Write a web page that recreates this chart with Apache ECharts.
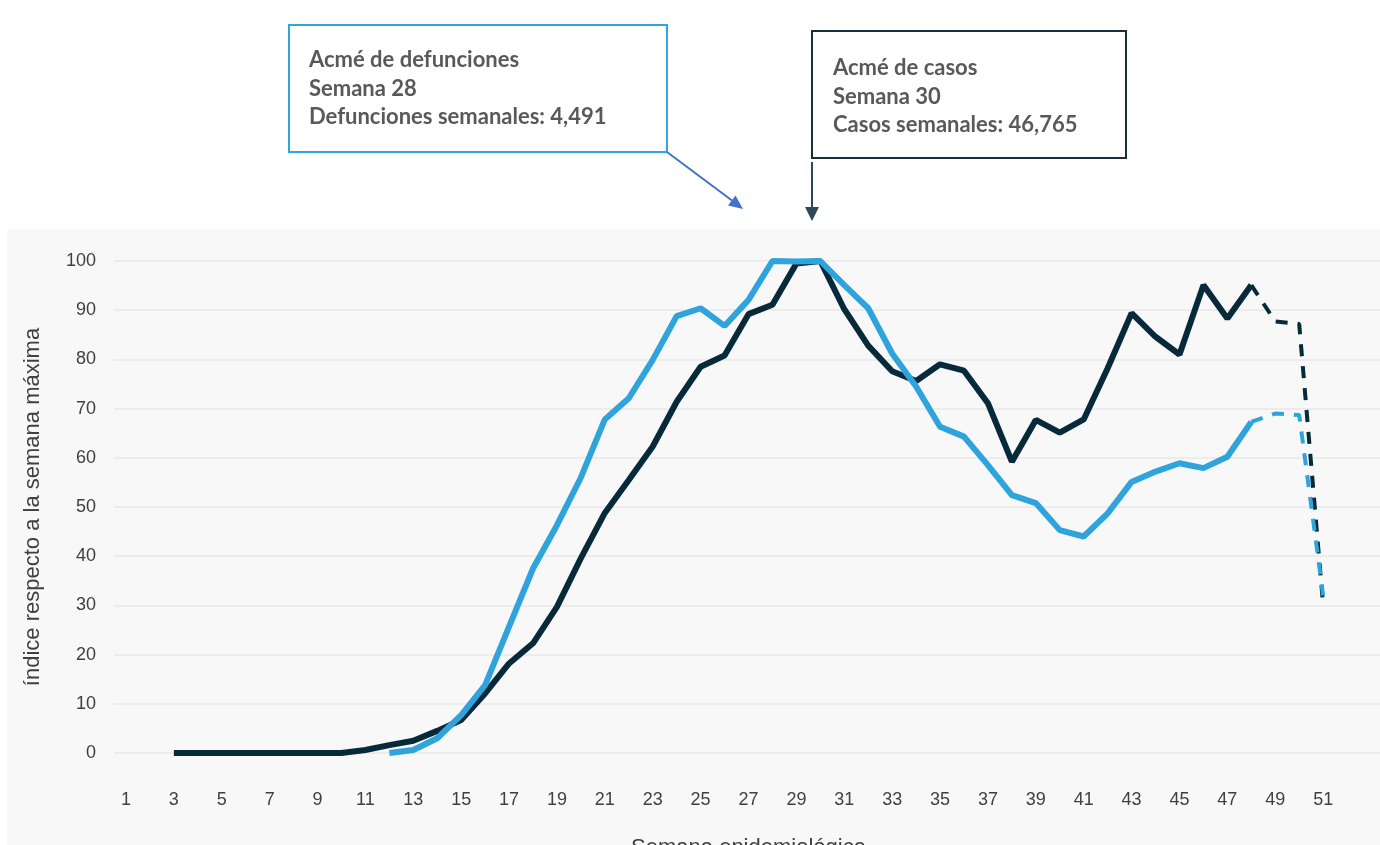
<!DOCTYPE html>
<html>
<head>
<meta charset="utf-8">
<script src="https://cdn.jsdelivr.net/npm/echarts@6/dist/echarts.min.js"></script>
<style>
  html, body { margin: 0; padding: 0; background: #ffffff; }
  #chart { width: 1380px; height: 845px; }
</style>
</head>
<body>
<div id="chart"></div>
<script>
// semanas epidemiológicas (52 y 53 solo dan aire a la derecha)
const weeks = ["1","2","3","4","5","6","7","8","9","10","11","12","13","14","15","16","17","18","19","20",
  "21","22","23","24","25","26","27","28","29","30","31","32","33","34","35","36","37","38","39","40",
  "41","42","43","44","45","46","47","48","49","50","51","52","53"];

// índice de casos (semana 30 = 100)
const casos = [null, null, 0, 0, 0, 0, 0, 0, 0, 0, 0.6, 1.6, 2.5, 4.5, 6.7, 12.1, 18.2, 22.3, 29.7, 39.6,
  48.8, 55.5, 62.3, 71.4, 78.5, 80.8, 89.2, 91.1, 99.5, 100, 90.2, 82.8, 77.6, 75.6, 79, 77.7, 71.1, 59.2, 67.7, 65.1,
  67.8, 78.2, 89.4, 84.6, 81, 95.1, 88.3, 95.1, 87.7, 87.2, 30];

// índice de defunciones (semana 28 = 100)
const defunciones = [null, null, null, null, null, null, null, null, null, null, null, 0, 0.6, 3, 7.7, 13.8, 25.7, 37.5, 46.3, 56,
  67.8, 72.1, 79.9, 88.8, 90.4, 86.8, 92.1, 100, 99.9, 100, 95.1, 90.4, 81.2, 74.5, 66.3, 64.3, 58.5, 52.4, 50.8, 45.3,
  44.0, 48.7, 55.1, 57.2, 58.9, 57.9, 60.2, 67.3, 69.0, 68.7, 32];

const lastClosedWeek = 48; // de aquí en adelante, cifras preliminares (punteadas)
const yTicks = { min: 0, max: 100, interval: 10 };

const closed = (arr) => arr.map((v, i) => (Number(weeks[i]) <= lastClosedWeek ? v : null));
const open = (arr) => arr.map((v, i) => (Number(weeks[i]) >= lastClosedWeek ? v : null));

const dark = "#072a3a";
const blue = "#2ea3dc";
const textGray = "#404040";
const noteGray = "#595959";

const chart = echarts.init(document.getElementById("chart"));

const option = {
  animation: false,
  grid: { left: 114, right: -3, top: 261, bottom: 92, outerBoundsMode: "none", containLabel: false },
  xAxis: {
    type: "category",
    data: weeks,
    boundaryGap: true,
    axisLine: { show: false },
    axisTick: { show: false },
    axisLabel: {
      interval: 1,
      margin: 38,
      fontSize: 18,
      color: textGray,
      fontFamily: "Liberation Sans",
      formatter: (v) => (Number(v) > 51 ? "" : v),
    },
    name: "Semana epidemiológica",
    nameLocation: "middle",
    nameGap: 84,
    nameTextStyle: { fontSize: 22, color: textGray, fontFamily: "Liberation Sans" },
  },
  yAxis: {
    type: "value",
    min: yTicks.min,
    max: yTicks.max,
    interval: yTicks.interval,
    axisLine: { show: false },
    axisTick: { show: false },
    axisLabel: { margin: 18, fontSize: 18, color: textGray, fontFamily: "Liberation Sans" },
    splitLine: { lineStyle: { color: "#e8e8e8", width: 1.5 } },
    name: "índice respecto a la semana máxima",
    nameLocation: "middle",
    nameGap: 70,
    nameTextStyle: { fontSize: 22, color: textGray, fontFamily: "Liberation Sans" },
  },
  graphic: [
    {
      type: "rect",
      z: -10,
      silent: true,
      shape: { x: 7, y: 229, width: 1373, height: 616 },
      style: { fill: "#f8f8f8" },
    },
    {
      type: "rect",
      shape: { x: 289, y: 25, width: 378, height: 127 },
      style: { fill: "#ffffff", stroke: "#2ea7e0", lineWidth: 2 },
    },
    {
      type: "text",
      x: 309,
      y: 46,
      style: {
        text: "Acmé de defunciones\nSemana 28\nDefunciones semanales: 4,491",
        font: "bold 22px Lato",
        fill: noteGray,
        lineHeight: 28.5,
      },
    },
    {
      type: "line",
      shape: { x1: 667, y1: 152, x2: 732, y2: 200.5 },
      style: { stroke: "#4472c4", lineWidth: 2 },
    },
    {
      type: "polygon",
      shape: { points: [[743, 209], [728, 205.5], [735.5, 195.5]] },
      style: { fill: "#4472c4" },
    },
    {
      type: "rect",
      shape: { x: 812, y: 31, width: 314, height: 127 },
      style: { fill: "#ffffff", stroke: "#1b2f3b", lineWidth: 2 },
    },
    {
      type: "text",
      x: 833,
      y: 54,
      style: {
        text: "Acmé de casos\nSemana 30\nCasos semanales: 46,765",
        font: "bold 22px Lato",
        fill: noteGray,
        lineHeight: 28.5,
      },
    },
    {
      type: "line",
      shape: { x1: 812, y1: 162, x2: 812, y2: 208 },
      style: { stroke: "#2e4a59", lineWidth: 2 },
    },
    {
      type: "polygon",
      shape: { points: [[812, 221], [805, 207], [819, 207]] },
      style: { fill: "#2e4a59" },
    },
  ],
  series: [
    {
      name: "Casos",
      type: "line",
      data: closed(casos),
      showSymbol: false,
      lineStyle: { color: dark, width: 6 },
    },
    {
      name: "Casos (preliminar)",
      type: "line",
      data: open(casos),
      showSymbol: false,
      lineStyle: { color: dark, width: 4, type: [12, 10] },
    },
    {
      name: "Defunciones",
      type: "line",
      data: closed(defunciones),
      showSymbol: false,
      lineStyle: { color: blue, width: 6 },
    },
    {
      name: "Defunciones (preliminar)",
      type: "line",
      data: open(defunciones),
      showSymbol: false,
      lineStyle: { color: blue, width: 4, type: [12, 10] },
    },
  ],
};

chart.setOption(option);
</script>
</body>
</html>
